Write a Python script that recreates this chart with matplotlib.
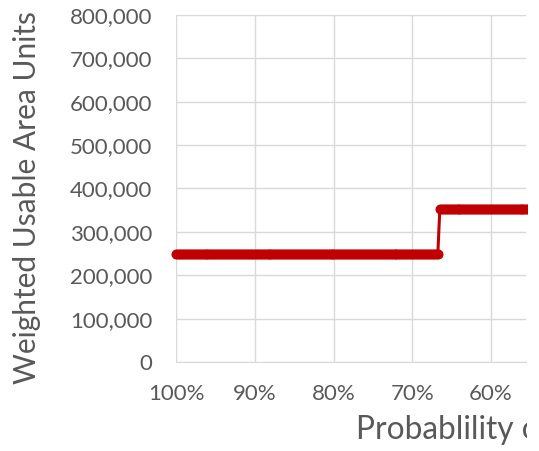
import numpy as np
import matplotlib
matplotlib.use('Agg')
import matplotlib.pyplot as plt
from matplotlib.ticker import FixedLocator, FuncFormatter
from matplotlib.transforms import Bbox, TransformedBbox

# Step curve: weighted usable area vs. exceedance probability
levels = [250000, 352000]          # WUA before / after the step
step_at = 0.667                    # probability where the curve jumps
prob_start, prob_end, prob_step = 1.0, 0.55, 0.0025

x_ticks = [1.0, 0.9, 0.8, 0.7, 0.6]
y_ticks = [0, 100000, 200000, 300000, 400000, 500000, 600000, 700000, 800000]

prob = np.arange(prob_start, prob_end - 1e-9, -prob_step)
wua = np.where(prob >= step_at, levels[0], levels[1])

plt.rcParams['font.family'] = ['Lato', 'DejaVu Sans']
W, H = 539, 451
fig = plt.figure(figsize=(W / 100, H / 100), dpi=100)
ax = fig.add_axes([176 / W, (H - 362) / H, (526 - 176) / W, (362 - 15) / H])

# the source chart is cut off on the right, so clip marks and label there
right_clip = TransformedBbox(Bbox([[0, 0], [526.5 / W, 1]]), fig.transFigure)

ln, = ax.plot(prob, wua, '-o', color='#C00000', lw=2.2, ms=6.2,
              mec='#C00000', zorder=3)
ln.set_clip_box(right_clip)

ax.set_xlim(1.0, 1.0 - (526 - 176) / 787.5)
ax.set_ylim(0, 800000)
ax.xaxis.set_major_locator(FixedLocator(x_ticks))
ax.yaxis.set_major_locator(FixedLocator(y_ticks))
ax.xaxis.set_major_formatter(FuncFormatter(lambda v, p: f'{v:.0%}'))
ax.yaxis.set_major_formatter(FuncFormatter(lambda v, p: f'{v:,.0f}'))
ax.grid(True, color='#d9d9d9', lw=1.0)
ax.set_axisbelow(True)
for s in ['top', 'right', 'left']:
    ax.spines[s].set_visible(False)
ax.spines['bottom'].set_color('#d9d9d9')
ax.tick_params(length=0, labelsize=16, labelcolor='#595959')
ax.tick_params(axis='y', pad=17)
ax.tick_params(axis='x', pad=16)

fig.text(27 / W, 1 - 198 / H, 'Weighted Usable Area Units', rotation=90,
         ha='center', va='center', fontsize=21.5, color='#595959')
xl = fig.text(356 / W, 1 - 430 / H, 'Probablility of Exceedance',
              ha='left', va='center', fontsize=22.8, color='#595959')
xl.set_clip_box(right_clip)
xl.set_clip_on(True)

fig.savefig('out.png', dpi=100)
